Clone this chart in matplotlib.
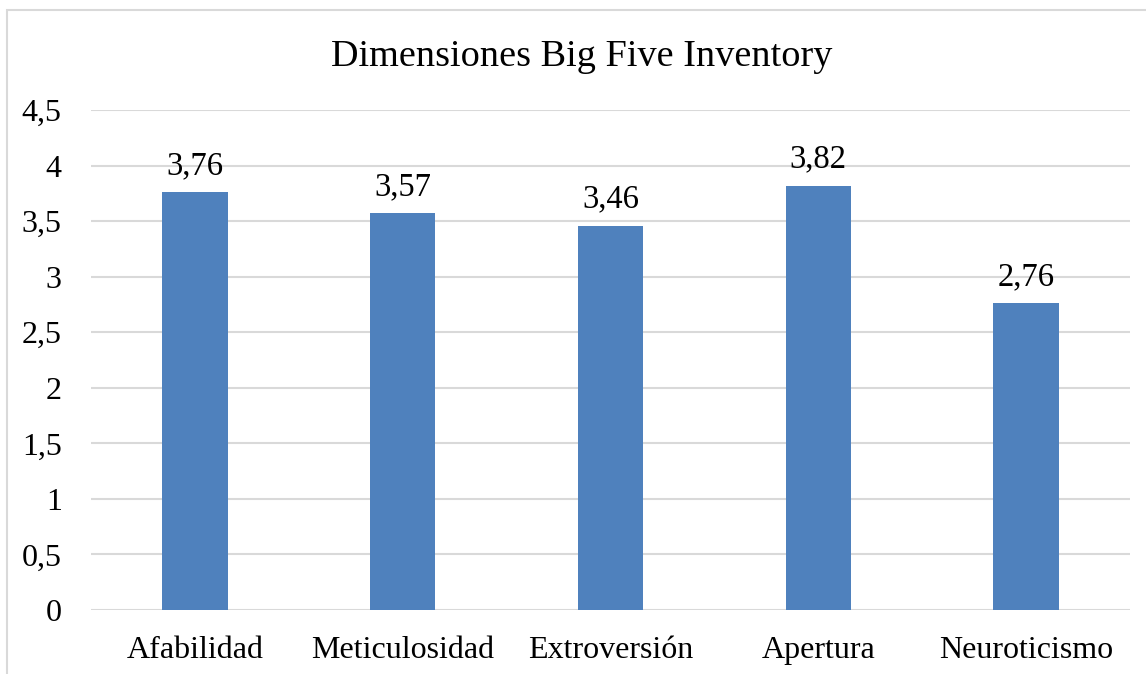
import matplotlib
matplotlib.use("Agg")
import matplotlib.pyplot as plt
from matplotlib.patches import Rectangle

categories = ["Afabilidad", "Meticulosidad", "Extroversión", "Apertura", "Neuroticismo"]
values = [3.76, 3.57, 3.46, 3.82, 2.76]
yticks = [0, 0.5, 1, 1.5, 2, 2.5, 3, 3.5, 4, 4.5]

plt.rcParams["font.family"] = ["Liberation Serif", "DejaVu Serif"]

fig = plt.figure(figsize=(11.46, 6.74), dpi=100)
ax = fig.add_axes([91 / 1146, 1 - 610 / 674, (1130 - 91) / 1146, 500 / 674])

# light chart frame (left and top edges visible)
fig.patches.append(Rectangle((7 / 1146, -0.1), 1.2, 1 - 10 / 674 + 0.1,
                             transform=fig.transFigure, fill=False,
                             edgecolor="#d9d9d9", linewidth=1.5))

x = range(len(categories))
bars = ax.bar(x, values, width=0.315, color="#4f81bd", zorder=3)

def fmt(v):
    s = f"{v:g}"
    return s.replace(".", ",")

for b, v in zip(bars, values):
    ax.annotate(f"{v:.2f}".replace(".", ","),
                (b.get_x() + b.get_width() / 2, v),
                xytext=(0, 8), textcoords="offset points",
                ha="center", va="bottom", fontsize=23.5)

ax.set_xlim(-0.5, len(categories) - 0.5)
ax.set_ylim(0, 4.5)
ax.set_yticks(yticks)
ax.set_yticklabels([fmt(t) for t in yticks], fontsize=23)
ax.set_xticks(list(x))
ax.set_xticklabels(categories, fontsize=23)
ax.tick_params(axis="both", length=0)
ax.tick_params(axis="y", pad=21)
ax.tick_params(axis="x", pad=19)
ax.grid(axis="y", color="#d9d9d9", linewidth=1.5, zorder=0)
for s in ax.spines.values():
    s.set_visible(False)

fig.text(582 / 1146, 1 - 57 / 674, "Dimensiones Big Five Inventory",
         ha="center", va="center", fontsize=27.5)

fig.savefig("out.png", dpi=100)
